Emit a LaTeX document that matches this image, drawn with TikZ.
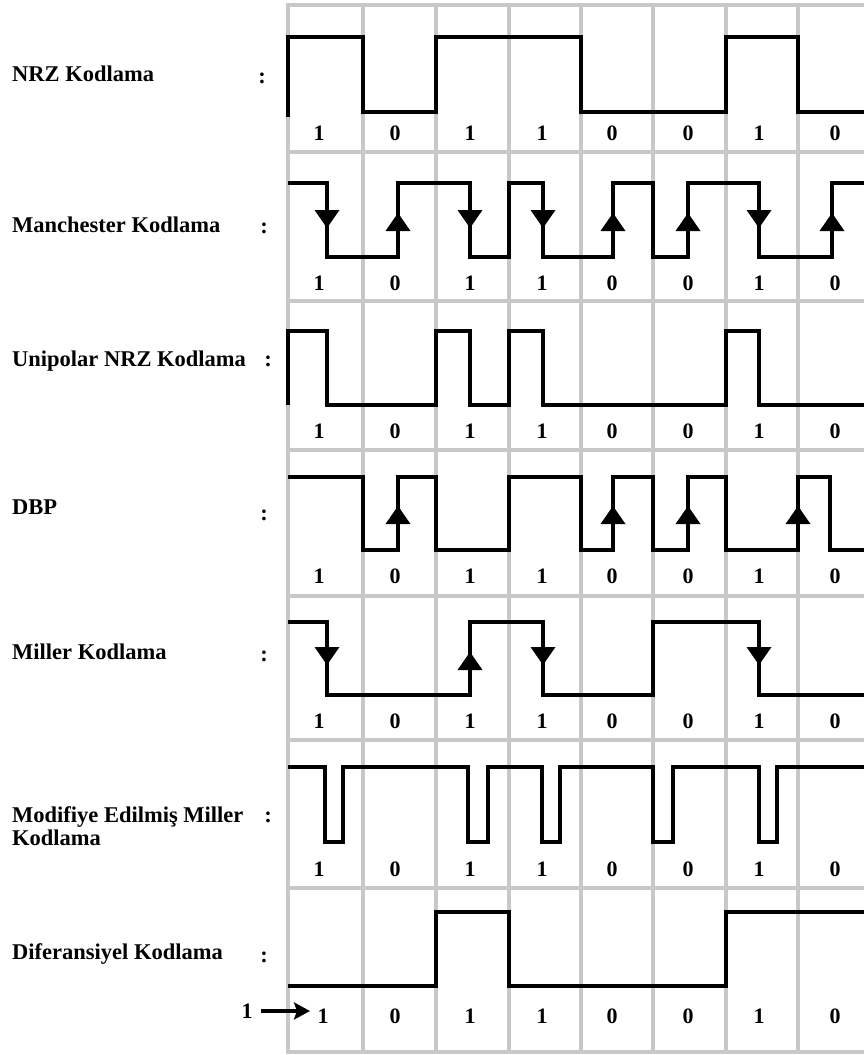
\documentclass[tikz,border=0pt]{standalone}
\usepackage{fontspec}
\setmainfont{Liberation Serif}
\usetikzlibrary{arrows.meta}
\definecolor{gridgray}{RGB}{200,200,200}
\newcommand\dnarr[2]{\fill (#1-12.5,#2-9) -- (#1+12.5,#2-9) -- (#1,#2+9) -- cycle;}
\newcommand\uparr[2]{\fill (#1-12.5,#2+9) -- (#1+12.5,#2+9) -- (#1,#2-9) -- cycle;}
\begin{document}
\begin{tikzpicture}[x=1pt,y=-1pt,
  gridline/.style={draw=gridgray,line width=4pt},
  sig/.style={draw=black,line width=4pt,line join=miter},
  lbl/.style={font=\bfseries\fontsize{22.5}{24}\selectfont,anchor=base west,inner sep=0pt},
  colon/.style={font=\bfseries\fontsize{22.5}{24}\selectfont,anchor=base,inner sep=0pt},
  bit/.style={font=\bfseries\fontsize{22}{24}\selectfont,anchor=base,inner sep=0pt}]
\useasboundingbox (0,0) rectangle (863,1055);
\fill[white] (0,0) rectangle (863,1055);
% grid
\foreach \x in {288,363,436,509,581,653,726,798}
  \draw[gridline] (\x,3) -- (\x,1054);
\foreach \y in {5,152,301,450,596,740,888,1052}
  \draw[gridline] (286,\y) -- (870,\y);
% left labels
\node[lbl] (l1) at (12,81) {NRZ Kodlama};
\node[colon] (c1) at (262,83) {:};
\node[lbl] (l2) at (12,232) {Manchester Kodlama};
\node[colon] (c2) at (264,233) {:};
\node[lbl] (l3) at (12,366) {Unipolar NRZ Kodlama};
\node[colon] (c3) at (268,366) {:};
\node[lbl] (l4) at (12,514) {DBP};
\node[colon] (c4) at (264,520) {:};
\node[lbl] (l5) at (12,659) {Miller Kodlama};
\node[colon] (c5) at (264,661) {:};
\node[lbl] (l6) at (12,822) {Modifiye Edilmiş Miller};
\node[colon] (c6) at (268,822) {:};
\node[lbl] (l6b) at (12,845) {Kodlama};
\node[lbl] (l7) at (12,959) {Diferansiyel Kodlama};
\node[colon] (c7) at (264,962) {:};
% signals
\draw[sig] (288,117) -- (288,37) -- (363,37) -- (363,112) -- (436,112) -- (436,37) -- (581,37) -- (581,112) -- (726,112) -- (726,37) -- (798,37) -- (798,112) -- (870,112);
\draw[sig] (288,183) -- (327,183) -- (327,257) -- (398,257) -- (398,183) -- (470,183) -- (470,257) -- (509,257) -- (509,183) -- (543,183) -- (543,257) -- (613,257) -- (613,183) -- (653,183) -- (653,257) -- (688,257) -- (688,183) -- (759,183) -- (759,257) -- (832,257) -- (832,183) -- (870,183);
\dnarr{327}{219}\dnarr{470}{219}\dnarr{543}{219}\dnarr{759}{219}
\uparr{398}{222}\uparr{613}{222}\uparr{688}{222}\uparr{832}{222}
\draw[sig] (288,405) -- (288,331) -- (327,331) -- (327,405) -- (436,405) -- (436,331) -- (470,331) -- (470,405) -- (509,405) -- (509,331) -- (543,331) -- (543,405) -- (726,405) -- (726,331) -- (759,331) -- (759,405) -- (870,405);
\draw[sig] (288,477) -- (363,477) -- (363,550) -- (398,550) -- (398,477) -- (436,477) -- (436,550) -- (509,550) -- (509,477) -- (581,477) -- (581,550) -- (613,550) -- (613,477) -- (653,477) -- (653,550) -- (688,550) -- (688,477) -- (726,477) -- (726,550) -- (798,550) -- (798,477) -- (830,477) -- (830,550) -- (870,550);
\uparr{398}{515}\uparr{613}{515}\uparr{688}{515}\uparr{798}{515}
\draw[sig] (288,622) -- (327,622) -- (327,695) -- (470,695) -- (470,622) -- (543,622) -- (543,695) -- (653,695) -- (653,622) -- (759,622) -- (759,695) -- (870,695);
\dnarr{327}{656}\dnarr{543}{656}\dnarr{759}{656}
\uparr{470}{661}
\draw[sig] (288,767) -- (325,767) -- (325,842) -- (343,842) -- (343,767) -- (468,767) -- (468,842) -- (488,842) -- (488,767) -- (542,767) -- (542,842) -- (560,842) -- (560,767) -- (653,767) -- (653,842) -- (673,842) -- (673,767) -- (759,767) -- (759,842) -- (777,842) -- (777,767) -- (870,767);
\draw[sig] (288,986) -- (436,986) -- (436,912) -- (509,912) -- (509,986) -- (726,986) -- (726,912) -- (870,912);
% bits
\foreach \r/\y in {1/140,2/290,3/438,4/583,5/728,6/876,7/1023}{
  \foreach \i/\x/\b in {1/319/1,2/395/0,3/470/1,4/542/1,5/612/0,6/688/0,7/759/1,8/835/0}{
    \ifnum\r=7 \ifnum\i=1 \def\xx{323}\else\def\xx{\x}\fi\else\def\xx{\x}\fi
    \node[bit] (b\r-\i) at (\xx,\y) {\b};
  }
}
% initial value arrow
\node[font=\bfseries\fontsize{22}{24}\selectfont,inner sep=0pt] (init) at (247,1011) {1};
\coordinate (arrowend) at (310,1011);
\draw[line width=4pt,-{Stealth[length=16pt,width=17pt,inset=3pt]},shorten <=8pt] (init.east) -- (arrowend);
\end{tikzpicture}
\end{document}
